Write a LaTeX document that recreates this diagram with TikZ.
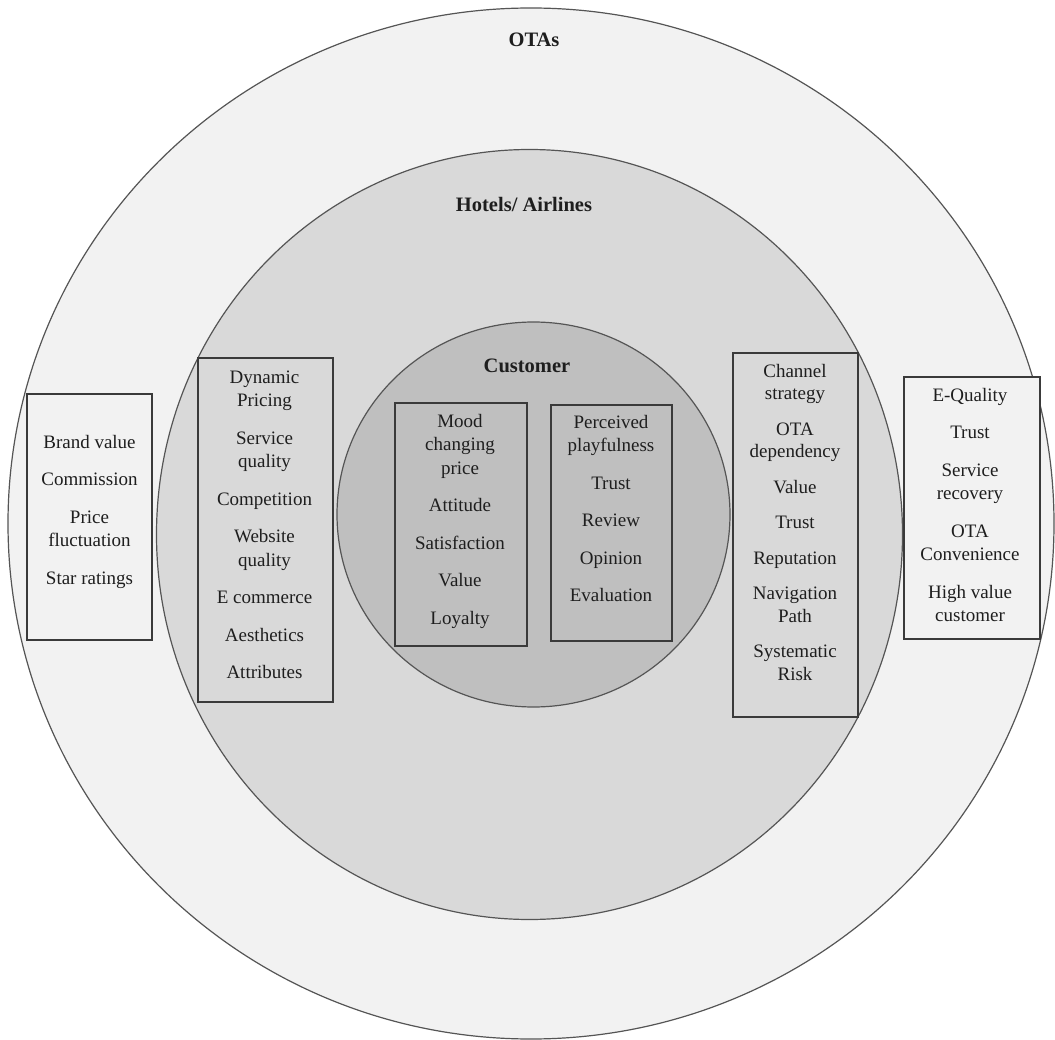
\documentclass[tikz,border=0pt]{standalone}
\usepackage{fontspec}
\setmainfont{Liberation Serif}
\usetikzlibrary{shapes.geometric}
\definecolor{ringA}{HTML}{F2F2F2}
\definecolor{ringB}{HTML}{D9D9D9}
\definecolor{ringC}{HTML}{BFBFBF}
\definecolor{edgeE}{HTML}{555555}
\definecolor{edgeB}{HTML}{3A3A3A}
\definecolor{ink}{HTML}{1E1E1E}
\begin{document}
\begin{tikzpicture}[x=1pt,y=-1pt,
  ring/.style={ellipse, draw=edgeE, line width=1.2pt, inner sep=0pt, outer sep=0pt},
  factorbox/.style={rectangle, draw=edgeB, line width=1.4pt, inner sep=0pt, outer sep=0pt},
  heading/.style={font=\bfseries\fontsize{20.5}{24}\selectfont, text=ink, inner sep=0pt, anchor=base},
  itemtxt/.style={align=center, inner sep=0pt, anchor=north, text=ink, font=\fontsize{19}{23.5}\selectfont},
  itemtxtE/.style={align=center, inner sep=0pt, anchor=north, text=ink, font=\fontsize{19}{22.5}\selectfont}
]
\useasboundingbox (0,0) rectangle (1055,1040);
\fill[white] (0,0) rectangle (1055,1040);
% rings
\node[ring, fill=ringA, minimum width=1046pt, minimum height=1031pt] (outer) at (531,523.5) {};
\node[ring, fill=ringB, minimum width=746pt, minimum height=770pt] (middle) at (529.5,534.5) {};
\node[ring, fill=ringC, minimum width=393pt, minimum height=385pt] (inner) at (533.5,514.5) {};
% headings
\node[heading] (otas) at (534,47) {OTAs};
\node[heading] (hotels) at (524,212) {Hotels/ Airlines};
\node[heading] (cust) at (527,373) {Customer};
% boxes
\node[factorbox, fill=ringA, minimum width=125pt, minimum height=246pt] (boxA) at (89.5,517) {};
\node[factorbox, fill=ringB, minimum width=135pt, minimum height=344pt] (boxB) at (265.5,530) {};
\node[factorbox, fill=ringC, minimum width=132pt, minimum height=243pt] (boxC) at (461,524.5) {};
\node[factorbox, fill=ringC, minimum width=121pt, minimum height=236pt] (boxD) at (611.5,523) {};
\node[factorbox, fill=ringB, minimum width=125pt, minimum height=364pt] (boxE) at (795.5,535) {};
\node[factorbox, fill=ringA, minimum width=136pt, minimum height=262pt] (boxF) at (972,508) {};
% texts
\node[itemtxt] (txtA) at (89.5,431.5) {\strut Brand value\\[14pt] Commission\\[14pt] Price\\ fluctuation\\[14pt] Star ratings};
\node[itemtxt] (txtB) at (264.5,366.5) {\strut Dynamic\\ Pricing\\[14pt] Service\\ quality\\[14pt] Competition\\[14pt] Website\\ quality\\[14pt] E commerce\\[14pt] Aesthetics\\[14pt] Attributes};
\node[itemtxt] (txtC) at (460,410.5) {\strut Mood\\ changing\\ price\\[14pt] Attitude\\[14pt] Satisfaction\\[14pt] Value\\[14pt] Loyalty};
\node[itemtxt] (txtD) at (611,411.5) {\strut Perceived\\ playfulness\\[14pt] Trust\\[14pt] Review\\[14pt] Opinion\\[14pt] Evaluation};
\node[itemtxtE] (txtE) at (795,361.25) {\strut Channel\\ strategy\\[13pt] OTA\\ dependency\\[13pt] Value\\[13pt] Trust\\[13pt] Reputation\\[13pt] Navigation\\ Path\\[13pt] Systematic\\ Risk};
\node[itemtxt] (txtF) at (970,384.5) {\strut E-Quality\\[14pt] Trust\\[14pt] Service\\ recovery\\[14pt] OTA\\ Convenience\\[14pt] High value\\ customer};
\end{tikzpicture}
\end{document}
